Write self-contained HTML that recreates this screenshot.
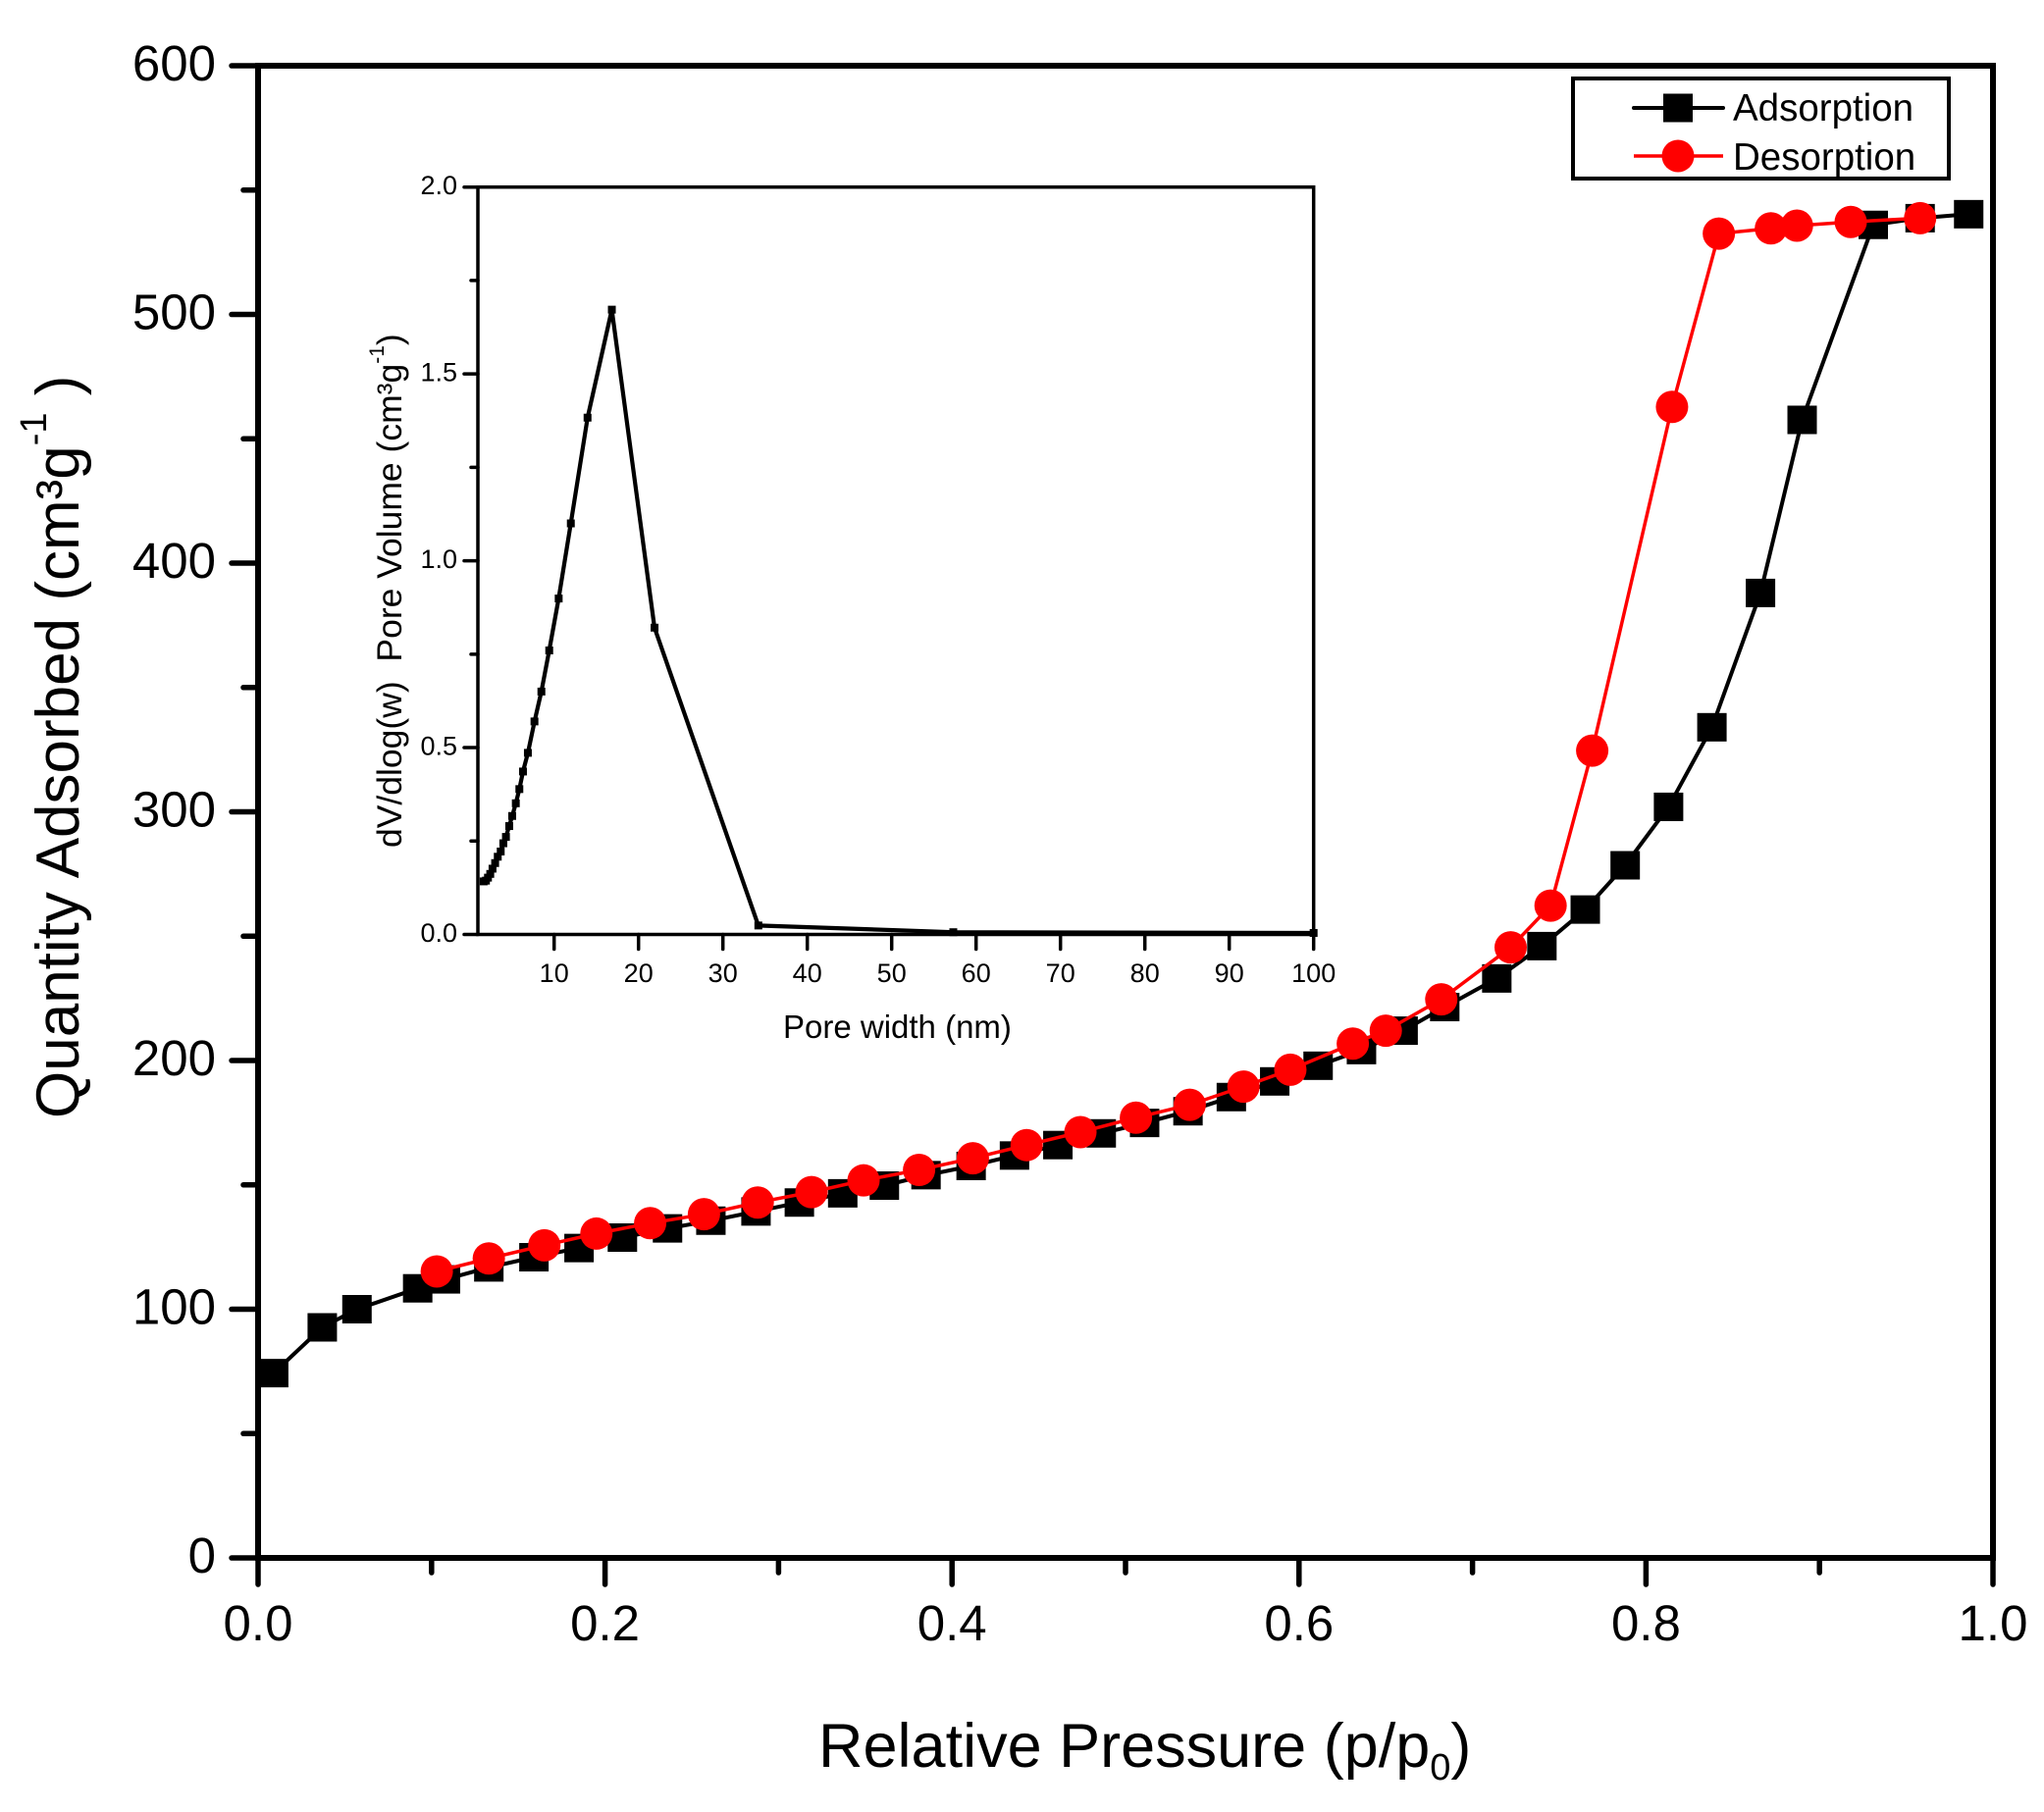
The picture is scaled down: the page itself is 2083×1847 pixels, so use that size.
<!DOCTYPE html>
<html lang="en">
<head>
<meta charset="utf-8">
<title>Adsorption-desorption isotherm</title>
<style>
html,body{margin:0;padding:0;background:#fff;}
svg{display:block;}
text{font-family:"Liberation Sans",Arial,sans-serif;fill:#000;}
</style>
</head>
<body>
<svg id="chart" xmlns="http://www.w3.org/2000/svg" width="2083" height="1847" viewBox="0 0 2083 1847">
  <rect x="0" y="0" width="2083" height="1847" fill="#fff"/>
  <g id="main-ticks"></g>
  <g id="inset-ticks"></g>
  <g id="main-series"></g>
  <g id="inset-series"></g>

  <text x="834" y="1801" font-size="63">Relative Pressure (p/p<tspan dy="13" font-size="38">0</tspan><tspan dy="-13">)</tspan></text>
  <text transform="translate(80 1140) rotate(-90)" x="0" y="0" font-size="62">Quantity Adsorbed (cm³g<tspan dy="-33" font-size="38">-1</tspan><tspan dy="33"> )</tspan></text>
  <text x="798" y="1058" font-size="33">Pore width (nm)</text>
  <text transform="translate(409 864) rotate(-90)" x="0" y="0" font-size="35.5">dV/dlog(w)&#160;&#160;Pore Volume (cm³g<tspan dy="-18" font-size="21">-1</tspan><tspan dy="18">)</tspan></text>

  <g>
    <rect x="1603" y="80" width="383" height="102" fill="#fff" stroke="#000" stroke-width="4"/>
    <line x1="1665" y1="110" x2="1756" y2="110" stroke="#000" stroke-width="4" stroke-linecap="round"/>
    <rect x="1695" y="95.5" width="30" height="29" fill="#000"/>
    <text x="1766" y="123" font-size="38.5">Adsorption</text>
    <line x1="1665" y1="159" x2="1756" y2="159" stroke="#f00" stroke-width="3.5"/>
    <circle cx="1710" cy="159" r="16.5" fill="#f00"/>
    <text x="1766" y="173" font-size="38.5">Desorption</text>
  </g>
</svg>
<script>
const adsorptionP = [.009,.037,.057,.092,.108,.133,.159,.185,.210,.236,.261,.287,.312,.337,.361,.385,.411,.436,.461,.486,.511,.536,.561,.586,.611,.636,.660,.684,.714,.740,.765,.788,.813,.838,.866,.890,.931,.958,.986];
const adsorptionQ = [74.3,92.7,100,108.4,112,116.8,120.9,124.6,128.8,132.5,135.6,139.3,142.9,146.6,149.7,153.9,157.6,161.8,166,170.7,174.9,179.6,185.3,191.6,197.9,204.2,212,221.5,233,246,260.7,278.5,302,334,388,457.6,536,538.7,540.3];
const desorptionP = [.103,.133,.165,.195,.226,.257,.288,.319,.349,.381,.412,.443,.474,.506,.537,.568,.595,.631,.650,.682,.722,.745,.769,.815,.842,.872,.887,.918,.958];
const desorptionQ = [115.2,120.4,125.7,130.4,134.6,138.2,142.9,147.1,151.8,156,160.7,166,171.2,177,182.2,189.5,196.3,206.8,212,224.6,245.5,262.3,324.6,462.8,532.5,534.6,535.7,537.2,538.7];
const poreWidth = [1.65,1.92,2.16,2.43,2.70,3.01,3.32,3.67,3.98,4.29,4.68,5.03,5.46,5.88,6.31,6.89,7.67,8.49,9.42,10.54,11.98,13.96,16.84,21.9,34.2,57.3,100];
const poreVolume = [.142,.144,.152,.162,.176,.191,.208,.222,.244,.261,.29,.317,.351,.389,.436,.486,.57,.65,.76,.899,1.10,1.383,1.672,.821,.024,.006,.004];
const mainXTicks = [0,.1,.2,.3,.4,.5,.6,.7,.8,.9,1];
const mainXLabels = ["0.0","","0.2","","0.4","","0.6","","0.8","","1.0"];
const mainYTicks = [0,50,100,150,200,250,300,350,400,450,500,550,600];
const mainYLabels = ["0","","100","","200","","300","","400","","500","","600"];
const insetXTicks = [10,20,30,40,50,60,70,80,90,100];
const insetXLabels = ["10","20","30","40","50","60","70","80","90","100"];
const insetYTicks = [0,.25,.5,.75,1,1.25,1.5,1.75,2];
const insetYLabels = ["0.0","","0.5","","1.0","","1.5","","2.0"];

const NS = 'http://www.w3.org/2000/svg';
const mainX = v => 263 + v * 1768;
const mainY = v => 1588 - v * (1521 / 600);
const insetX = v => 564.7 + (v - 10) * 8.6;
const insetY = v => 952.5 - v * (761.8 / 2);

function make(tag, parent, props) {
  const el = document.createElementNS(NS, tag);
  for (const k in props) el.setAttribute(k, props[k]);
  parent.appendChild(el);
  return el;
}

const mt = document.getElementById('main-ticks');
const it = document.getElementById('inset-ticks');
const ms = document.getElementById('main-series');
const is = document.getElementById('inset-series');

// main axes frame
const frame = make('rect', mt, {x: mainX(0), y: mainY(600), width: mainX(1) - mainX(0), height: mainY(0) - mainY(600), fill: 'none', stroke: '#000', 'stroke-width': 6});



mainXTicks.forEach((v, i) => {
  const major = mainXLabels[i] !== '';
  const t = make('line', mt, {x1: mainX(v), x2: mainX(v), y1: mainY(0), y2: mainY(0) + (major ? 27 : 15), stroke: '#000', 'stroke-width': 5.5, 'stroke-linecap': 'round'});
  
  
  if (major) {
    const l = make('text', mt, {x: mainX(v), y: 1672, 'font-size': 51, 'text-anchor': 'middle'});
    l.textContent = mainXLabels[i];
    
    
  }
});
mainYTicks.forEach((v, i) => {
  const major = mainYLabels[i] !== '';
  const t = make('line', mt, {x1: mainX(0), x2: mainX(0) - (major ? 27 : 15), y1: mainY(v), y2: mainY(v), stroke: '#000', 'stroke-width': 5.5, 'stroke-linecap': 'round'});
  
  
  if (major) {
    const l = make('text', mt, {x: 220, y: mainY(v) + 15, 'font-size': 51, 'text-anchor': 'end'});
    l.textContent = mainYLabels[i];
    
    
  }
});

// inset axes frame
const insetFrame = make('rect', it, {x: 487, y: insetY(2), width: insetX(100) - 487, height: insetY(0) - insetY(2), fill: 'none', stroke: '#000', 'stroke-width': 3.5});



insetXTicks.forEach((v, i) => {
  const t = make('line', it, {x1: insetX(v), x2: insetX(v), y1: insetY(0), y2: insetY(0) + 15, stroke: '#000', 'stroke-width': 3.5, 'stroke-linecap': 'round'});
  
  
  const l = make('text', it, {x: insetX(v), y: 1001, 'font-size': 27, 'text-anchor': 'middle'});
  l.textContent = insetXLabels[i];
  
  
});
insetYTicks.forEach((v, i) => {
  const major = insetYLabels[i] !== '';
  const t = make('line', it, {x1: 487, x2: 487 - (major ? 14 : 7), y1: insetY(v), y2: insetY(v), stroke: '#000', 'stroke-width': 3.5, 'stroke-linecap': 'round'});
  
  
  if (major) {
    const l = make('text', it, {x: 466, y: insetY(v) + 7.5, 'font-size': 27, 'text-anchor': 'end'});
    l.textContent = insetYLabels[i];
    
    
  }
});

function points(xs, ys, fx, fy) {
  return xs.map((x, i) => fx(x).toFixed(1) + ',' + fy(ys[i]).toFixed(1)).join(' ');
}

// adsorption series
const adsLine = make('polyline', ms, {points: points(adsorptionP, adsorptionQ, mainX, mainY), fill: 'none', stroke: '#000', 'stroke-width': 4});


adsorptionP.forEach((p, i) => {
  const m = make('rect', ms, {x: mainX(p) - 15, y: mainY(adsorptionQ[i]) - 14.5, width: 30, height: 29, fill: '#000'});
  
  
});

// desorption series
const desLine = make('polyline', ms, {points: points(desorptionP, desorptionQ, mainX, mainY), fill: 'none', stroke: '#f00', 'stroke-width': 3.5});


desorptionP.forEach((p, i) => {
  const m = make('circle', ms, {cx: mainX(p), cy: mainY(desorptionQ[i]), r: 16.5, fill: '#f00'});
  
  
});

// inset series
const poreLine = make('polyline', is, {points: points(poreWidth, poreVolume, insetX, insetY), fill: 'none', stroke: '#000', 'stroke-width': 4.2});


poreWidth.forEach((w, i) => {
  const m = make('rect', is, {x: insetX(w) - 4, y: insetY(poreVolume[i]) - 4, width: 8, height: 8, fill: '#000'});
  
  
});
</script>
</body>
</html>
